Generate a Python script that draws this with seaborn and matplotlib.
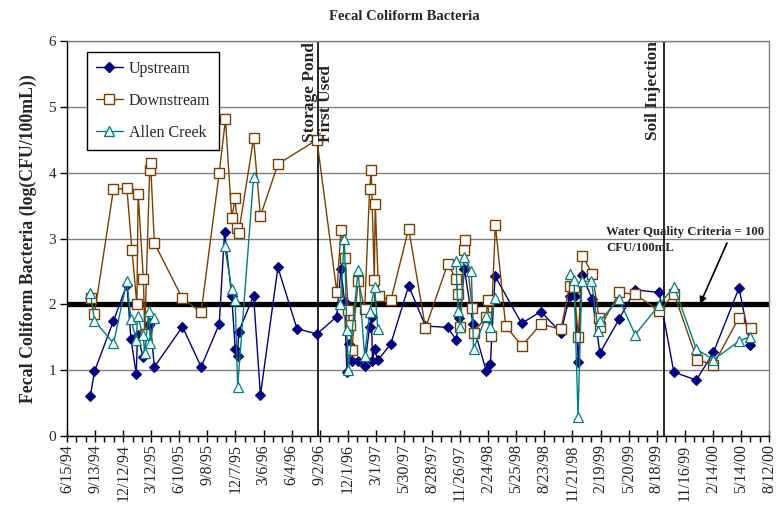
import numpy as np
import pandas as pd
import matplotlib
matplotlib.use("Agg")
import matplotlib.pyplot as plt
from matplotlib.lines import Line2D
from matplotlib.ticker import FixedLocator
import seaborn as sns

# ---------------- data (days since 6/15/94, log(CFU/100mL)) ----------------
START = "1994-06-15"

up_days = [75, 88, 149, 192, 205, 222, 226, 244, 262, 267, 280, 370, 430, 488, 505,
           528, 539, 547, 550, 598, 620, 676, 737, 801, 864, 878, 890, 897, 904, 912,
           933, 954, 970, 976, 979, 986, 996, 1038, 1095, 1149, 1220, 1247, 1258, 1274,
           1301, 1344, 1357, 1372, 1457, 1519, 1583, 1611, 1627, 1639, 1650, 1684, 1708,
           1769, 1821, 1898, 1945, 2017, 2072, 2154, 2190]
up_vals = [0.61, 0.98, 1.75, 2.30, 1.47, 0.94, 1.53, 1.20, 1.69, 1.72, 1.05, 1.66, 1.05,
           1.70, 3.10, 2.13, 1.32, 1.22, 1.58, 2.13, 0.62, 2.56, 1.63, 1.55, 1.81, 2.53,
           2.03, 0.97, 1.40, 1.14, 1.14, 1.06, 1.66, 1.81, 1.14, 1.32, 1.15, 1.40, 2.28,
           1.67, 1.65, 1.46, 1.79, 2.53, 1.70, 0.98, 1.10, 2.43, 1.71, 1.89, 1.57, 2.12,
           2.13, 1.12, 2.44, 2.08, 1.26, 1.77, 2.22, 2.18, 0.97, 0.85, 1.27, 2.25, 1.38]

down_days = [78, 88, 149, 192, 208, 224, 228, 245, 249, 265, 268, 280, 370, 430, 488,
             508, 528, 539, 546, 550, 598, 620, 676, 801, 865, 878, 892, 901, 906, 913,
             933, 954, 970, 975, 985, 988, 999, 1038, 1095, 1149, 1220, 1247, 1253, 1260,
             1273, 1275, 1299, 1303, 1344, 1348, 1358, 1373, 1406, 1458, 1519, 1583, 1611,
             1625, 1639, 1652, 1684, 1705, 1709, 1770, 1821, 1898, 1946, 2019, 2072, 2154,
             2192]
down_vals = [2.09, 1.85, 3.75, 3.76, 2.83, 2.00, 3.68, 2.38, 1.55, 4.04, 4.14, 2.93, 2.09,
             1.88, 4.00, 4.81, 3.31, 3.61, 3.16, 3.08, 4.52, 3.34, 4.13, 4.50, 2.18, 3.13,
             2.70, 1.92, 1.68, 1.31, 2.36, 1.93, 3.75, 4.04, 2.37, 3.53, 2.12, 2.06, 3.15,
             1.64, 2.61, 2.39, 2.15, 1.65, 2.83, 2.97, 1.94, 1.57, 1.81, 2.07, 1.52, 3.21,
             1.67, 1.37, 1.70, 1.62, 2.28, 2.27, 1.50, 2.74, 2.46, 1.80, 1.65, 2.18, 2.15,
             1.90, 2.16, 1.16, 1.08, 1.80, 1.64]

# NaN marks a break in the Allen Creek record
allen_days = [75, 88, 149, 192, 205, 222, 226, 244, 249, 262, 267, 280, 400,
              505, 528, 539, 547, 598, 700,
              876, 889, 897, 902, 933, 954, 970, 986, 996, 1100,
              1247, 1253, 1260, 1274, 1296, 1303, 1343, 1357, 1371, 1500,
              1611, 1625, 1638, 1650, 1681, 1703, 1708, 1769, 1821, 1898, 1946, 2017,
              2072, 2154, 2190]
allen_vals = [2.17, 1.75, 1.41, 2.35, 1.77, 1.46, 1.82, 1.53, 1.26, 1.90, 1.41, 1.79, np.nan,
              2.89, 2.23, 2.07, 0.75, 3.93, np.nan,
              2.00, 3.00, 1.61, 1.00, 2.52, 1.22, 1.88, 2.27, 1.63, np.nan,
              2.66, 1.90, 1.66, 2.72, 2.51, 1.32, 1.82, 1.65, 2.09, np.nan,
              2.46, 2.37, 0.29, 2.35, 2.35, 1.60, 1.75, 2.08, 1.54, 1.99, 2.27, 1.32,
              1.16, 1.44, 1.51]

x_tick_labels = ["6/15/94", "9/13/94", "12/12/94", "3/12/95", "6/10/95", "9/8/95",
                 "12/7/95", "3/6/96", "6/4/96", "9/2/96", "12/1/96", "3/1/97", "5/30/97",
                 "8/28/97", "11/26/97", "2/24/98", "5/25/98", "8/23/98", "11/21/98",
                 "2/19/99", "5/20/99", "8/18/99", "11/16/99", "2/14/00", "5/14/00",
                 "8/12/00"]
y_ticks = [0, 1, 2, 3, 4, 5, 6]

criteria_value = 2.0
criteria_lines = ["Water Quality Criteria = 100", "CFU/100mL"]
event_dates = ["1996-08-27", "1999-09-11"]
event_labels = ["Storage Pond\nFirst Used", "Soil Injection"]

series_names = ["Upstream", "Downstream", "Allen Creek"]
# ---------------------------------------------------------------------------

sns.set_theme(style="white")
plt.rcParams["font.family"] = ["Liberation Serif", "DejaVu Serif"]

start = pd.Timestamp(START)


def frame(days, vals):
    df = pd.DataFrame({"date": start + pd.to_timedelta(days, unit="D"), "value": vals})
    df["segment"] = df["value"].isna().cumsum()
    return df.dropna().reset_index(drop=True)


up_df = frame(up_days, up_vals)
down_df = frame(down_days, down_vals)
allen_df = frame(allen_days, allen_vals)

NAVY = "#000080"
BROWN = "#7B3F00"
TEAL = "#008080"

fig = plt.figure(figsize=(7.76, 5.09), dpi=100)
ax = fig.add_axes([67 / 776, 1 - 436 / 509, 702 / 776, 395 / 509])

tick_dates = pd.to_datetime(x_tick_labels, format="%m/%d/%y")

# data series
sns.lineplot(data=up_df, x="date", y="value", units="segment", estimator=None, ax=ax,
             color=NAVY, lw=1.0, marker="D", markersize=5.3, markerfacecolor=NAVY,
             markeredgecolor=NAVY, markeredgewidth=0.8, zorder=3)
sns.lineplot(data=down_df, x="date", y="value", units="segment", estimator=None, ax=ax,
             color=BROWN, lw=1.0, marker="s", markersize=7.5, markerfacecolor="white",
             markeredgecolor=BROWN, markeredgewidth=1.0, zorder=4)
sns.lineplot(data=allen_df, x="date", y="value", units="segment", estimator=None, ax=ax,
             color=TEAL, lw=1.0, marker="^", markersize=6.5, markerfacecolor="white",
             markeredgecolor=TEAL, markeredgewidth=0.9, zorder=5)

# criteria line
ax.axhline(criteria_value, color="black", lw=3.8, zorder=2)

# event lines
for d in event_dates:
    ax.axvline(pd.Timestamp(d), color="black", lw=1.2, zorder=2.5)

ax.annotate(event_labels[0], xy=(pd.Timestamp(event_dates[0]), (436 - 142) / 65.8),
            xytext=(0, 0), textcoords="offset points", rotation=90, ha="center",
            va="bottom", multialignment="left", fontsize=12.5, fontweight="bold",
            linespacing=1.0, zorder=6)
ax.annotate(event_labels[1], xy=(pd.Timestamp(event_dates[1]), (436 - 140) / 65.8),
            xytext=(-8, 0), textcoords="offset points", rotation=90, ha="center",
            va="bottom", fontsize=12.5, fontweight="bold", zorder=6)

# criteria annotation (two lines, baselines as in the reference)
ax.text((606 - 67) / 702, (436 - 235) / 395, criteria_lines[0],
        transform=ax.transAxes, ha="left", va="baseline", fontsize=9.2,
        fontweight="bold", zorder=6)
ax.text((606 - 67) / 702, (436 - 251) / 395, criteria_lines[1],
        transform=ax.transAxes, ha="left", va="baseline", fontsize=9.2,
        fontweight="bold", zorder=6)
ax.annotate("", xy=((700 - 67) / 702, (436 - 304) / 395), xycoords="axes fraction",
            xytext=((727 - 67) / 702, (436 - 243) / 395), textcoords="axes fraction",
            arrowprops=dict(arrowstyle="-|>", color="black", lw=1.2,
                            mutation_scale=10, shrinkA=0, shrinkB=0), zorder=6)

# axes
ax.set_xlim(tick_dates[0], tick_dates[-1])
ax.set_ylim(0, 6)
ax.set_yticks(y_ticks)
ax.set_yticklabels([str(v) for v in y_ticks], fontsize=11)
ax.xaxis.set_major_locator(FixedLocator(matplotlib.dates.date2num(tick_dates)))
ax.set_xticklabels(x_tick_labels, rotation=90, fontsize=11.5)
minor = pd.date_range(tick_dates[0], tick_dates[-1], freq="30D")
ax.xaxis.set_minor_locator(FixedLocator(matplotlib.dates.date2num(minor)))
ax.tick_params(axis="x", which="major", direction="inout", length=8, width=1,
               color="black", pad=2, bottom=True)
ax.tick_params(axis="x", which="minor", direction="out", length=4, width=1,
               color="black", bottom=True)
ax.tick_params(axis="y", which="major", direction="out", length=5, width=1,
               color="black", pad=3, left=True)

ax.yaxis.grid(True, color="#808080", lw=1.0, zorder=0)
ax.xaxis.grid(False)
ax.set_axisbelow(True)
for side in ["left", "bottom"]:
    ax.spines[side].set_color("black")
    ax.spines[side].set_linewidth(1.0)
for side in ["top", "right"]:
    ax.spines[side].set_color("#808080")
    ax.spines[side].set_linewidth(1.0)

ax.set_xlabel("")
ax.set_ylabel("Fecal Coliform Bacteria (log(CFU/100mL))", fontsize=12.8,
              fontweight="bold", labelpad=8)
fig.text(404 / 776, 1 - 17 / 509, "Fecal Coliform Bacteria", ha="center", va="center",
         fontsize=10.5, fontweight="bold")

handles = [
    Line2D([], [], color=NAVY, lw=1.0, marker="D", markersize=5.3, markerfacecolor=NAVY,
           markeredgecolor=NAVY),
    Line2D([], [], color=BROWN, lw=1.0, marker="s", markersize=7.5,
           markerfacecolor="white", markeredgecolor=BROWN),
    Line2D([], [], color=TEAL, lw=1.0, marker="^", markersize=6.5,
           markerfacecolor="white", markeredgecolor=TEAL),
]
leg = ax.legend(handles, series_names, loc="upper left",
                bbox_to_anchor=((87 - 67) / 702, (436 - 52) / 395), borderaxespad=0,
                fontsize=11.5, frameon=True, fancybox=False, edgecolor="black",
                framealpha=1, handlelength=1.7, labelspacing=1.0, borderpad=0.55,
                handletextpad=0.35)
leg.get_frame().set_linewidth(1.0)
leg.set_zorder(10)

fig.savefig("out.png", dpi=100)
